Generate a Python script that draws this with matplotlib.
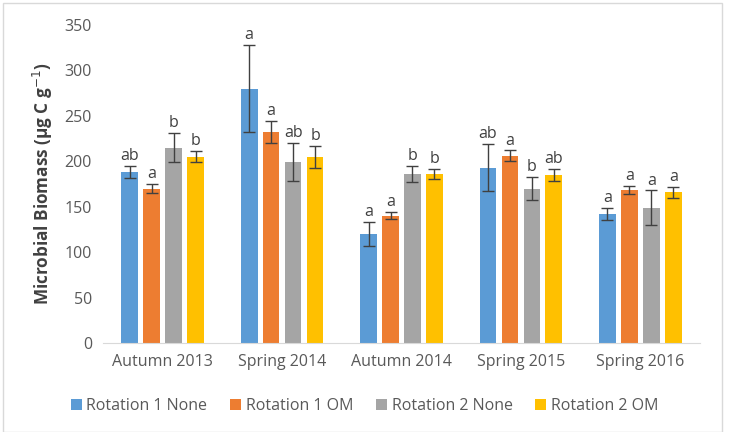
import numpy as np
import matplotlib.pyplot as plt
from matplotlib.patches import Rectangle

plt.rcParams['font.family'] = ['Open Sans', 'DejaVu Sans']

seasons = ['Autumn 2013', 'Spring 2014', 'Autumn 2014', 'Spring 2015', 'Spring 2016']
series = ['Rotation 1 None', 'Rotation 1 OM', 'Rotation 2 None', 'Rotation 2 OM']
colors = ['#5B9BD5', '#ED7D31', '#A5A5A5', '#FFC000']

rot1_none = [188, 280, 120, 193, 142]
rot1_om = [170, 232, 140, 206, 168]
rot2_none = [215, 199, 186, 170, 149]
rot2_om = [205, 205, 186, 185, 166]

rot1_none_err = [6.5, 48, 13, 26, 7]
rot1_om_err = [5, 12, 4, 6, 4.5]
rot2_none_err = [16, 21, 9, 13, 19]
rot2_om_err = [6, 12, 6, 7, 6]

letters = [['ab', 'a', 'a', 'ab', 'a'],
           ['a', 'a', 'a', 'a', 'a'],
           ['b', 'ab', 'b', 'b', 'a'],
           ['b', 'b', 'b', 'ab', 'a']]

values = [rot1_none, rot1_om, rot2_none, rot2_om]
errors = [rot1_none_err, rot1_om_err, rot2_none_err, rot2_om_err]

fig = plt.figure(figsize=(7.29, 4.32), dpi=100)
ax = fig.add_axes([103 / 729, 1 - 343 / 432, 597 / 729, 318 / 432])

x = np.arange(len(seasons))
width = 0.14
step = 0.184
for i in range(4):
    pos = x + (i - 1.5) * step
    ax.bar(pos, values[i], width, color=colors[i], label=series[i], zorder=2)
    ax.errorbar(pos, values[i], yerr=errors[i], fmt='none', ecolor='#404040',
                elinewidth=1, capsize=4, capthick=1, zorder=3)
    for j in range(len(seasons)):
        ax.text(pos[j], values[i][j] + errors[i][j] + 2, letters[i][j],
                ha='center', va='bottom', fontsize=11.5, color='#404040')

ax.set_xlim(-0.5, 4.5)
ax.set_ylim(0, 350)
ax.set_yticks(range(0, 351, 50))
ax.set_xticks(x)
ax.set_xticklabels(seasons)
ax.tick_params(length=0, labelsize=11.5, labelcolor='#595959')
ax.tick_params(axis='x', pad=8)
ax.tick_params(axis='y', pad=8)
for s in ['top', 'right', 'left']:
    ax.spines[s].set_visible(False)
ax.spines['bottom'].set_color('#D9D9D9')

ax.set_ylabel('Microbial Biomass (µg C g$^{-1}$)', fontsize=12.3,
              fontweight='bold', color='#404040', labelpad=7)

ax.legend(loc='center', bbox_to_anchor=(0.5, 1 - 406 / 432), bbox_transform=fig.transFigure,
          ncol=4, frameon=False, fontsize=11.5, handlelength=0.7, handleheight=0.7,
          handletextpad=0.3, columnspacing=1.4, labelcolor='#595959')

fig.patches.append(Rectangle((3 / 729, 0), 719 / 729, 429 / 432, transform=fig.transFigure,
                             fill=False, edgecolor='#D9D9D9', linewidth=1))

fig.savefig('out.png', dpi=100)
